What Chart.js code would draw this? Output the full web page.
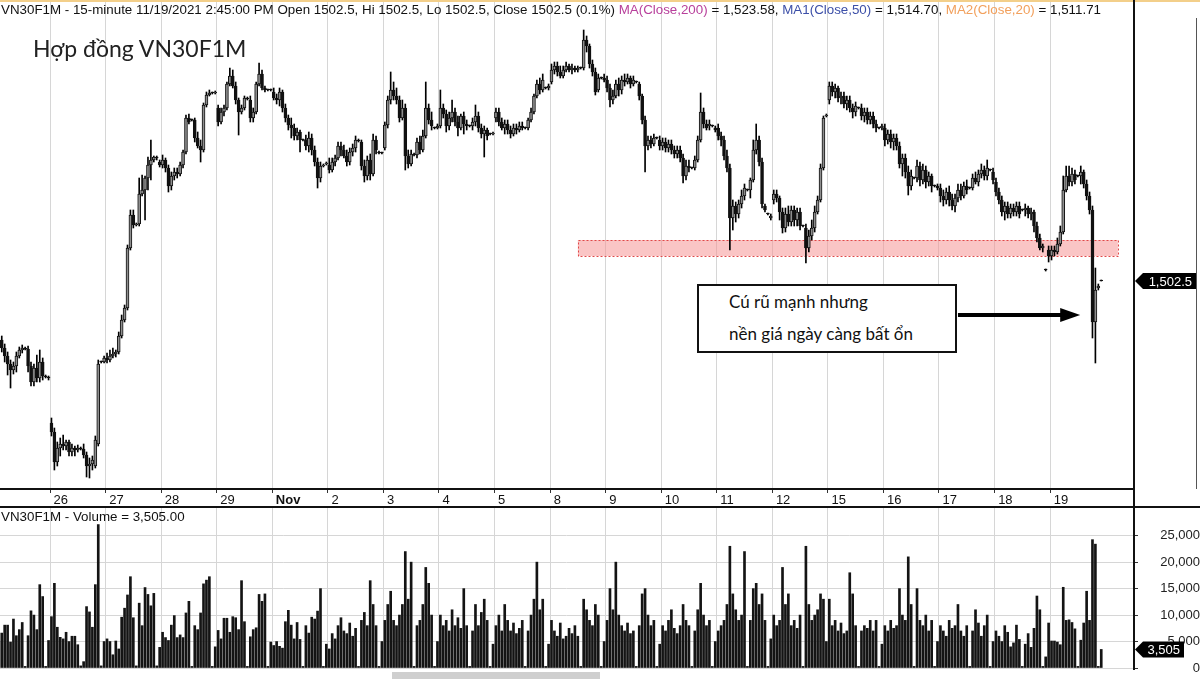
<!DOCTYPE html>
<html lang="vi">
<head>
<meta charset="utf-8">
<title>VN30F1M 15-minute</title>
<script src="https://cdn.jsdelivr.net/npm/chart.js@4.4.1/dist/chart.umd.min.js"></script>
<style>
  html, body { margin: 0; padding: 0; background: #fff; }
  #wrap { position: relative; width: 1200px; height: 679px; overflow: hidden; font-family: 'Liberation Sans', Arial, sans-serif; }
  canvas { position: absolute; left: 0; }
  #price { top: 0; }
  #volume { top: 507px; }
  .txt { position: absolute; white-space: nowrap; color: #111; font-size: 13.35px; line-height: 16px; }
  #hdr { left: 1px; top: 2px; }
  #vhdr { left: 1px; top: 509px; }
  #title { left: 33px; top: 34px; font-family: Lato, 'Open Sans', sans-serif; font-size: 23px; line-height: 28px; color: #222; }
  #note { left: 697px; top: 284px; width: 226px; height: 65px; padding-left: 30px; border: 2px solid #111; background: #fff;
          font-family: Lato, 'Open Sans', sans-serif; font-size: 17px; line-height: 32px; color: #111; }
  .ma0 { color: #b8409c; } .ma1 { color: #3c4fa8; } .ma2 { color: #f2a05c; }
  .rule { position: absolute; background: #111; }
  #topline { position: absolute; left: 0; top: 0; width: 1200px; height: 2px; background: #f3cf8a; }
  #thumb { position: absolute; left: 392px; top: 672px; width: 208px; height: 7px; background: #cfcfcf; }
</style>
</head>
<body>
<div id="wrap">
  <canvas id="price" width="1200" height="506"></canvas>
  <canvas id="volume" width="1200" height="172"></canvas>
  <div id="topline"></div>
  <div class="rule" style="left:0;top:506px;width:1200px;height:2px"></div>
  <div class="rule" style="left:1133px;top:0;width:2px;height:670px"></div>
  <div class="rule" style="left:1196px;top:18px;width:1px;height:471px;background:#555"></div>
  <div id="thumb"></div>
  <div id="hdr" class="txt">VN30F1M - 15-minute 11/19/2021 2:45:00 PM Open 1502.5, Hi 1502.5, Lo 1502.5, Close 1502.5 (0.1%) <span class="ma0">MA(Close,200)</span> = 1,523.58, <span class="ma1">MA1(Close,50)</span> = 1,514.70, <span class="ma2">MA2(Close,20)</span> = 1,511.71</div>
  <div id="vhdr" class="txt">VN30F1M - Volume = 3,505.00</div>
  <div id="title" class="txt">Hợp đồng VN30F1M</div>
  <div id="note" class="txt">Cú rũ mạnh nhưng<br>nền giá ngày càng bất ổn</div>
</div>
<script>
// 15-minute bars, 19 per session (Oct 25 .. Nov 19, last session has 18)
const dayLabels = ['26', '27', '28', '29', 'Nov', '2', '3', '4', '5', '8', '9', '10', '11', '12', '15', '16', '17', '18', '19'];
const barsPerDay = 19;

const opens = [
  1489.7, 1490.3, 1490.7, 1489.1, 1487.5, 1485.9, 1484.7, 1485.5, 1487.5, 1488.7, 1489.1, 1488.9, 1485.5, 1482.3, 1485.1, 1483.1, 1486.3, 1483.5, 1483.3,
  1474.1, 1472.3, 1466.3, 1469.1, 1469.9, 1469.5, 1470.3, 1468.3, 1469.1, 1468.7, 1469.1, 1468.9, 1467.7, 1465.5, 1465.9, 1465.5, 1469.9, 1486.3, 1486.3,
  1487.1, 1486.7, 1487.5, 1487.9, 1488.3, 1491.5, 1494.7, 1497.1, 1509.1, 1515.7, 1513.7, 1513.9, 1519.9, 1520.7, 1523.1, 1525.7, 1526.7, 1527.3, 1526.3,
  1525.7, 1526.7, 1525.1, 1521.5, 1523.5, 1524.3, 1523.9, 1525.7, 1528.3, 1535.1, 1534.7, 1534.7, 1531.1, 1529.5, 1528.7, 1537.7, 1539.7, 1540.1, 1540.1,
  1537.1, 1534.3, 1536.3, 1537.1, 1541.9, 1543.5, 1541.5, 1538.7, 1536.3, 1537.1, 1539.1, 1538.7, 1535.1, 1536.3, 1541.9, 1543.9, 1541.1, 1540.7, 1540.7,
  1540.3, 1539.1, 1538.7, 1540.3, 1537.1, 1535.1, 1533.7, 1533.1, 1531.5, 1532.3, 1530.7, 1530.7, 1529.5, 1531.1, 1528.7, 1526.3, 1523.1, 1525.5, 1525.9,
  1525.7, 1524.7, 1526.3, 1527.1, 1529.5, 1528.7, 1527.5, 1526.3, 1528.3, 1529.1, 1530.7, 1530.3, 1525.5, 1523.5, 1526.7, 1523.9, 1530.7, 1528.3, 1528.1,
  1529.1, 1533.7, 1538.7, 1540.7, 1539.5, 1538.7, 1535.1, 1537.1, 1527.5, 1525.9, 1527.9, 1527.7, 1530.3, 1528.7, 1531.5, 1537.1, 1534.7, 1533.1, 1533.1,
  1533.5, 1537.1, 1535.9, 1533.5, 1535.1, 1536.3, 1534.3, 1533.1, 1535.5, 1533.9, 1533.5, 1533.5, 1534.3, 1535.5, 1533.1, 1531.9, 1532.7, 1531.9, 1531.9,
  1535.1, 1536.3, 1534.3, 1533.1, 1533.9, 1532.7, 1531.9, 1533.1, 1532.7, 1533.5, 1533.1, 1533.1, 1534.7, 1536.3, 1539.5, 1541.9, 1540.7, 1541.1, 1541.1,
  1542.3, 1544.7, 1545.5, 1544.3, 1543.5, 1544.7, 1545.5, 1544.7, 1545.1, 1544.7, 1545.1, 1545.1, 1550.7, 1549.5, 1545.9, 1544.3, 1540.7, 1543.1, 1543.1,
  1542.7, 1541.1, 1538.7, 1539.5, 1541.9, 1540.7, 1542.7, 1542.3, 1543.1, 1541.9, 1542.3, 1541.9, 1539.5, 1534.7, 1529.5, 1530.7, 1529.9, 1531.1, 1530.7,
  1529.5, 1530.3, 1529.1, 1529.9, 1528.7, 1527.9, 1528.7, 1527.1, 1523.5, 1525.5, 1525.1, 1525.1, 1526.7, 1530.7, 1536.3, 1533.9, 1533.5, 1533.5, 1533.1,
  1533.1, 1531.5, 1530.7, 1527.5, 1525.1, 1515.1, 1517.5, 1515.9, 1517.9, 1519.5, 1520.7, 1520.7, 1522.7, 1528.7, 1530.7, 1526.3, 1517.5, 1515.9, 1515.1,
  1518.7, 1519.9, 1519.1, 1516.3, 1513.1, 1515.9, 1514.3, 1516.7, 1514.7, 1516.3, 1513.5, 1513.1, 1509.1, 1511.5, 1513.1, 1516.3, 1518.7, 1525.1, 1535.5,
  1538.7, 1541.5, 1540.3, 1541.1, 1539.1, 1539.5, 1537.9, 1538.7, 1537.1, 1536.3, 1537.1, 1537.1, 1535.5, 1536.3, 1534.7, 1535.5, 1533.9, 1533.1, 1533.1,
  1533.1, 1530.7, 1531.9, 1530.3, 1531.1, 1529.5, 1525.9, 1527.1, 1524.3, 1521.5, 1523.1, 1523.1, 1525.5, 1522.7, 1524.7, 1522.3, 1523.5, 1521.5, 1521.5,
  1521.1, 1519.5, 1518.7, 1520.3, 1518.7, 1517.5, 1519.1, 1520.7, 1519.5, 1521.5, 1521.1, 1521.1, 1523.1, 1522.3, 1523.9, 1524.7, 1523.5, 1524.7, 1524.3,
  1522.3, 1520.3, 1518.7, 1516.3, 1517.5, 1515.9, 1517.1, 1516.3, 1517.5, 1516.7, 1516.7, 1517.1, 1515.9, 1516.3, 1513.5, 1511.1, 1509.1, 1504.7, 1508.7,
  1507.5, 1508.7, 1508.3, 1509.9, 1512.3, 1520.7, 1523.5, 1522.3, 1523.9, 1523.5, 1523.5, 1524.3, 1521.9, 1519.5, 1516.7, 1494.3, 1501.1, 1502.5
];
const highs = [
  1491.1, 1491.1, 1491.5, 1489.9, 1488.3, 1486.7, 1486.3, 1488.3, 1489.3, 1489.7, 1489.3, 1489.5, 1486.3, 1485.9, 1487.7, 1488.7, 1487.1, 1483.7, 1483.5,
  1475.1, 1473.1, 1470.3, 1471.1, 1471.7, 1470.7, 1470.7, 1469.9, 1469.5, 1469.7, 1469.3, 1469.9, 1468.3, 1467.1, 1467.5, 1471.5, 1486.7, 1486.5, 1487.5,
  1488.1, 1488.7, 1489.1, 1488.7, 1492.3, 1495.7, 1497.7, 1509.7, 1516.7, 1516.7, 1514.1, 1523.1, 1523.7, 1523.5, 1527.3, 1530.7, 1527.5, 1527.5, 1526.7,
  1527.7, 1527.1, 1525.7, 1524.3, 1525.1, 1525.1, 1526.3, 1528.7, 1535.7, 1535.9, 1534.9, 1535.1, 1532.3, 1530.7, 1538.1, 1540.3, 1540.7, 1540.3, 1540.5,
  1537.7, 1537.1, 1537.7, 1542.3, 1545.1, 1544.7, 1542.3, 1539.1, 1537.7, 1539.5, 1539.3, 1539.5, 1537.1, 1542.3, 1546.1, 1544.7, 1541.5, 1540.9, 1540.9,
  1541.1, 1539.9, 1541.1, 1540.7, 1537.9, 1535.7, 1535.1, 1533.9, 1533.1, 1532.7, 1530.9, 1531.7, 1532.3, 1531.9, 1529.5, 1527.1, 1526.3, 1525.9, 1526.3,
  1527.1, 1527.1, 1527.7, 1530.3, 1530.3, 1529.7, 1528.7, 1529.1, 1529.9, 1531.5, 1530.9, 1530.7, 1526.7, 1527.5, 1527.9, 1531.9, 1531.5, 1528.5, 1528.3,
  1534.3, 1539.5, 1544.3, 1542.3, 1541.1, 1539.5, 1538.7, 1537.9, 1528.7, 1528.7, 1528.1, 1531.1, 1531.5, 1532.7, 1542.3, 1537.9, 1536.3, 1533.3, 1533.9,
  1540.7, 1537.9, 1536.7, 1536.3, 1538.7, 1537.1, 1535.5, 1535.9, 1536.3, 1534.7, 1533.7, 1535.1, 1537.7, 1536.3, 1533.9, 1533.5, 1533.1, 1532.1, 1532.3,
  1537.1, 1537.1, 1535.1, 1534.7, 1534.7, 1533.5, 1533.9, 1533.9, 1534.3, 1534.3, 1533.3, 1535.1, 1537.1, 1539.9, 1542.7, 1543.1, 1543.9, 1541.3, 1541.9,
  1545.9, 1546.3, 1546.3, 1545.5, 1545.5, 1546.3, 1545.9, 1545.9, 1545.5, 1545.5, 1545.3, 1552.7, 1551.5, 1549.9, 1546.7, 1545.1, 1543.9, 1543.3, 1543.9,
  1543.5, 1541.9, 1540.7, 1542.7, 1543.1, 1543.5, 1543.9, 1543.9, 1543.5, 1543.5, 1542.5, 1542.3, 1539.9, 1535.5, 1531.5, 1531.5, 1531.9, 1531.3, 1531.5,
  1531.1, 1531.1, 1530.7, 1530.7, 1529.5, 1529.5, 1529.5, 1527.9, 1526.7, 1526.7, 1525.3, 1527.5, 1531.5, 1540.1, 1537.1, 1534.7, 1534.7, 1533.7, 1533.5,
  1533.9, 1532.3, 1531.5, 1528.7, 1525.9, 1518.7, 1518.3, 1518.7, 1520.7, 1521.9, 1520.9, 1523.1, 1530.7, 1533.9, 1531.5, 1527.1, 1517.9, 1516.1, 1515.9,
  1520.7, 1520.7, 1519.5, 1517.1, 1517.1, 1517.5, 1517.5, 1517.5, 1517.1, 1517.1, 1513.7, 1513.9, 1512.7, 1514.7, 1517.5, 1519.5, 1525.9, 1535.5, 1535.9,
  1542.3, 1542.3, 1541.9, 1541.5, 1540.3, 1540.3, 1539.5, 1539.5, 1537.9, 1538.3, 1537.3, 1537.9, 1537.1, 1537.1, 1536.3, 1536.3, 1534.7, 1533.3, 1533.9,
  1533.9, 1532.7, 1532.7, 1531.9, 1531.9, 1530.3, 1527.9, 1527.9, 1525.5, 1524.7, 1523.3, 1526.7, 1526.3, 1525.9, 1525.5, 1524.3, 1523.9, 1521.7, 1521.9,
  1521.9, 1520.7, 1521.1, 1521.5, 1519.9, 1519.9, 1521.9, 1521.9, 1522.3, 1522.7, 1521.3, 1523.9, 1524.3, 1524.7, 1525.9, 1525.5, 1526.7, 1524.9, 1525.1,
  1523.1, 1521.1, 1519.5, 1518.3, 1518.3, 1517.9, 1517.9, 1518.3, 1518.3, 1516.9, 1517.9, 1517.5, 1517.1, 1516.7, 1514.3, 1511.9, 1509.9, 1504.9, 1509.5,
  1509.5, 1509.5, 1511.1, 1513.5, 1523.5, 1525.5, 1525.5, 1525.1, 1524.7, 1523.7, 1525.5, 1524.7, 1522.7, 1520.3, 1517.5, 1505.1, 1501.9, 1502.5
];
const lows = [
  1488.7, 1488.7, 1488.3, 1486.3, 1483.7, 1481.1, 1483.9, 1484.3, 1487.1, 1488.1, 1488.7, 1484.3, 1481.5, 1481.5, 1482.3, 1482.3, 1482.7, 1483.1, 1482.7,
  1471.5, 1464.7, 1465.5, 1467.5, 1468.7, 1468.7, 1467.5, 1467.5, 1467.5, 1468.3, 1468.7, 1467.1, 1463.3, 1463.1, 1464.7, 1465.1, 1469.5, 1486.1, 1486.1,
  1486.1, 1486.3, 1487.1, 1487.3, 1487.9, 1491.1, 1494.3, 1496.7, 1508.7, 1513.1, 1513.5, 1513.5, 1519.5, 1514.7, 1520.7, 1522.7, 1526.3, 1526.7, 1525.3,
  1525.1, 1524.3, 1520.3, 1520.7, 1522.7, 1523.1, 1523.5, 1525.1, 1527.9, 1533.9, 1534.5, 1530.3, 1529.1, 1526.3, 1528.3, 1537.3, 1539.5, 1539.9, 1539.9,
  1533.5, 1533.9, 1535.5, 1536.7, 1541.5, 1541.1, 1537.9, 1531.7, 1535.9, 1536.7, 1538.7, 1534.3, 1534.3, 1535.9, 1541.5, 1540.7, 1540.3, 1540.5, 1540.5,
  1538.7, 1537.9, 1537.5, 1536.3, 1534.3, 1532.7, 1531.1, 1530.7, 1530.7, 1528.3, 1530.5, 1528.7, 1528.3, 1527.7, 1525.5, 1521.1, 1522.3, 1525.3, 1525.7,
  1524.1, 1524.3, 1525.5, 1526.7, 1527.5, 1527.1, 1525.5, 1525.7, 1527.5, 1528.3, 1530.3, 1524.7, 1522.3, 1522.7, 1522.7, 1523.5, 1527.9, 1527.9, 1527.9,
  1528.7, 1533.1, 1537.9, 1538.7, 1537.9, 1534.3, 1534.7, 1524.7, 1525.1, 1525.5, 1527.5, 1527.1, 1527.9, 1528.3, 1531.1, 1533.9, 1532.7, 1532.9, 1532.9,
  1533.1, 1535.1, 1532.3, 1532.7, 1534.3, 1533.5, 1531.5, 1532.7, 1531.9, 1532.7, 1533.3, 1532.7, 1533.5, 1532.3, 1531.1, 1527.3, 1530.7, 1531.7, 1531.7,
  1534.3, 1533.5, 1532.7, 1531.9, 1531.9, 1531.1, 1531.5, 1531.9, 1532.3, 1532.7, 1532.9, 1532.7, 1534.3, 1535.9, 1539.1, 1539.9, 1540.3, 1540.9, 1540.7,
  1541.9, 1543.9, 1543.5, 1543.1, 1543.1, 1544.3, 1544.3, 1543.9, 1544.3, 1544.3, 1544.9, 1544.7, 1548.3, 1545.1, 1543.5, 1539.7, 1540.3, 1542.9, 1542.3,
  1540.3, 1537.3, 1537.9, 1539.1, 1539.5, 1539.9, 1541.5, 1541.9, 1541.1, 1541.5, 1542.1, 1538.7, 1533.9, 1524.3, 1528.7, 1529.1, 1529.5, 1530.9, 1528.7,
  1528.7, 1528.3, 1528.3, 1527.9, 1527.1, 1527.1, 1526.3, 1522.1, 1522.7, 1524.3, 1524.9, 1524.7, 1526.3, 1530.3, 1533.1, 1532.7, 1532.7, 1533.3, 1532.3,
  1530.7, 1529.5, 1526.7, 1524.3, 1508.7, 1512.7, 1514.3, 1515.1, 1517.1, 1518.7, 1520.5, 1519.1, 1522.3, 1527.9, 1525.5, 1517.1, 1516.3, 1515.7, 1514.7,
  1517.9, 1518.3, 1514.7, 1512.1, 1512.3, 1513.5, 1513.5, 1513.5, 1513.5, 1512.7, 1513.3, 1506.1, 1508.3, 1510.7, 1512.3, 1515.9, 1518.3, 1524.7, 1535.3,
  1537.9, 1539.5, 1539.1, 1538.3, 1537.9, 1537.1, 1536.7, 1536.3, 1535.1, 1535.5, 1536.9, 1534.7, 1534.3, 1533.9, 1533.9, 1533.1, 1532.3, 1532.9, 1532.7,
  1529.5, 1529.9, 1529.1, 1528.7, 1528.7, 1525.1, 1523.5, 1523.1, 1519.7, 1520.7, 1522.9, 1522.3, 1521.5, 1521.9, 1521.1, 1521.5, 1520.3, 1521.3, 1520.7,
  1518.3, 1517.5, 1517.9, 1517.5, 1516.7, 1516.3, 1518.3, 1518.7, 1519.1, 1519.9, 1520.9, 1520.7, 1521.9, 1521.5, 1523.1, 1522.7, 1522.7, 1524.5, 1521.9,
  1519.5, 1517.9, 1515.5, 1514.7, 1515.1, 1515.1, 1515.5, 1515.5, 1515.1, 1516.5, 1515.5, 1515.1, 1514.7, 1512.3, 1510.3, 1508.7, 1508.3, 1504.5, 1506.3,
  1506.7, 1507.5, 1507.9, 1509.5, 1511.9, 1520.3, 1521.5, 1521.5, 1521.9, 1523.3, 1521.9, 1521.1, 1518.7, 1515.9, 1491.1, 1486.1, 1500.7, 1502.5
];
const closes = [
  1490.3, 1489.7, 1489.1, 1487.5, 1485.9, 1484.7, 1485.5, 1487.5, 1488.7, 1489.1, 1488.9, 1485.5, 1482.3, 1485.1, 1483.1, 1486.3, 1483.5, 1483.3, 1483.1,
  1472.3, 1466.3, 1469.1, 1469.9, 1469.5, 1470.3, 1468.3, 1469.1, 1468.7, 1469.1, 1468.9, 1467.7, 1465.5, 1465.9, 1466.7, 1470.7, 1485.9, 1486.3, 1487.1,
  1486.7, 1487.5, 1487.9, 1488.3, 1491.5, 1494.7, 1497.1, 1509.1, 1515.7, 1513.7, 1513.9, 1519.9, 1520.7, 1523.1, 1525.7, 1526.7, 1527.3, 1527.1, 1525.7,
  1526.7, 1525.1, 1521.5, 1523.5, 1524.3, 1523.9, 1525.7, 1528.3, 1535.1, 1534.3, 1534.7, 1531.1, 1529.5, 1528.7, 1537.7, 1539.7, 1540.1, 1540.1, 1540.3,
  1534.3, 1536.3, 1537.1, 1541.9, 1543.5, 1541.5, 1538.7, 1536.3, 1537.1, 1539.1, 1538.9, 1535.1, 1536.3, 1541.9, 1543.9, 1541.1, 1540.7, 1540.7, 1540.7,
  1539.1, 1538.7, 1540.3, 1537.1, 1535.1, 1533.7, 1533.1, 1531.5, 1532.3, 1530.7, 1530.7, 1529.5, 1531.1, 1528.7, 1526.3, 1523.1, 1525.5, 1525.7, 1526.1,
  1524.7, 1526.3, 1527.1, 1529.5, 1528.7, 1527.5, 1526.3, 1528.3, 1529.1, 1530.7, 1530.5, 1525.5, 1523.5, 1526.7, 1523.9, 1530.7, 1528.7, 1528.1, 1528.1,
  1533.7, 1538.7, 1540.7, 1539.5, 1538.7, 1535.1, 1537.1, 1527.5, 1525.9, 1527.9, 1527.7, 1530.3, 1528.7, 1531.5, 1537.1, 1534.7, 1533.5, 1533.1, 1533.5,
  1537.1, 1535.9, 1533.5, 1535.1, 1536.3, 1534.3, 1533.1, 1535.5, 1533.9, 1533.5, 1533.5, 1534.3, 1535.5, 1533.1, 1531.9, 1532.7, 1531.5, 1531.9, 1532.1,
  1536.3, 1534.3, 1533.1, 1533.9, 1532.7, 1531.9, 1533.1, 1532.7, 1533.5, 1533.1, 1533.1, 1534.7, 1536.3, 1539.5, 1541.9, 1540.7, 1542.7, 1541.1, 1541.5,
  1544.7, 1545.5, 1544.3, 1543.5, 1544.7, 1545.5, 1544.7, 1545.1, 1544.7, 1545.1, 1545.1, 1550.7, 1549.5, 1545.9, 1544.3, 1540.3, 1543.1, 1543.1, 1542.7,
  1541.1, 1538.7, 1539.5, 1541.9, 1540.7, 1542.7, 1542.3, 1543.1, 1541.9, 1542.7, 1542.3, 1539.5, 1534.7, 1529.5, 1530.7, 1529.9, 1531.1, 1531.1, 1529.5,
  1530.3, 1529.1, 1529.9, 1528.7, 1527.9, 1528.7, 1527.1, 1523.5, 1525.5, 1525.1, 1525.1, 1526.7, 1530.7, 1536.3, 1533.9, 1533.1, 1533.9, 1533.5, 1532.7,
  1531.5, 1530.7, 1527.5, 1525.1, 1515.1, 1517.5, 1515.9, 1517.9, 1519.5, 1521.1, 1520.7, 1522.7, 1528.7, 1530.7, 1526.3, 1517.9, 1516.7, 1515.9, 1515.5,
  1519.9, 1519.1, 1516.3, 1513.1, 1515.9, 1514.3, 1516.7, 1514.7, 1516.3, 1513.5, 1513.5, 1509.1, 1511.5, 1513.1, 1516.3, 1518.7, 1525.1, 1535.1, 1535.7,
  1541.5, 1540.3, 1541.1, 1539.1, 1539.5, 1537.9, 1538.7, 1537.1, 1536.3, 1537.5, 1537.1, 1535.5, 1536.3, 1534.7, 1535.5, 1533.9, 1533.1, 1533.1, 1533.5,
  1530.7, 1531.9, 1530.3, 1531.1, 1529.5, 1525.9, 1527.1, 1524.3, 1521.5, 1523.5, 1523.1, 1525.5, 1522.7, 1524.7, 1522.3, 1523.5, 1521.5, 1521.5, 1521.1,
  1519.5, 1518.7, 1520.3, 1518.7, 1517.5, 1519.1, 1520.7, 1519.5, 1521.5, 1520.7, 1521.1, 1523.1, 1522.3, 1523.9, 1524.7, 1523.5, 1525.1, 1524.7, 1522.7,
  1520.3, 1518.7, 1516.3, 1517.5, 1515.9, 1517.1, 1516.3, 1517.5, 1515.9, 1516.7, 1517.1, 1515.9, 1516.3, 1513.5, 1511.1, 1509.1, 1509.5, 1504.7, 1507.5,
  1508.7, 1508.3, 1509.9, 1512.3, 1520.7, 1523.5, 1522.3, 1523.9, 1522.7, 1523.5, 1524.3, 1521.9, 1519.5, 1516.7, 1494.3, 1500.7, 1501.5, 1502.5
];
const volumes = [
  5000, 5000, 6600, 8100, 8100, 4900, 9250, 6100, 7250, 8600, 300, 6100, 10800, 10000, 7250, 15750, 13500, 300, 5200,
  9700, 16000, 7700, 5800, 5500, 6750, 5000, 6000, 6000, 4400, 400, 1200, 11600, 10600, 7700, 15750, 27100, 400, 5000,
  5500, 5000, 2500, 5100, 3600, 9600, 11300, 13800, 17250, 9500, 400, 12250, 8000, 15200, 13900, 11750, 14100, 400, 3900,
  6750, 5750, 5200, 8100, 9900, 5750, 6250, 5750, 10400, 12600, 300, 8000, 7250, 10400, 15900, 16600, 17250, 300, 4000,
  7100, 5500, 9400, 9400, 6750, 9700, 9500, 7250, 16500, 8750, 300, 5900, 7250, 7600, 13900, 12600, 14000, 300, 4900,
  4250, 5000, 4100, 3750, 8750, 10900, 8100, 5500, 8600, 5400, 300, 8000, 6600, 9600, 9250, 10750, 15000, 300, 4500,
  3600, 6500, 5500, 8000, 9500, 7000, 6500, 8500, 6000, 7500, 300, 9000, 10500, 8000, 16500, 12000, 8000, 300, 5000,
  9000, 12000, 14500, 9000, 8000, 10000, 12000, 22000, 13000, 20000, 300, 8000, 9000, 12000, 19000, 16000, 10000, 300, 5000,
  10000, 8000, 9000, 7000, 11000, 8000, 9500, 7500, 15000, 8000, 300, 7000, 12000, 8000, 10500, 13000, 9000, 300, 4500,
  8000, 10000, 7000, 12000, 9000, 7000, 8500, 6500, 7500, 9000, 300, 7000, 10000, 13000, 20000, 11000, 13000, 300, 4500,
  9000, 7000, 6000, 8500, 5500, 6000, 7500, 6500, 8000, 6000, 300, 13000, 11000, 9000, 8000, 12000, 10000, 300, 5000,
  9000, 15000, 11000, 20000, 10000, 8000, 7000, 8500, 6500, 7000, 300, 8000, 14000, 15000, 10000, 8000, 9000, 300, 4500,
  8000, 7000, 9000, 11000, 7500, 6500, 8000, 12000, 9000, 8000, 300, 7000, 11000, 16000, 10000, 8000, 9000, 300, 5000,
  7000, 8000, 9000, 12000, 23000, 14000, 11000, 9000, 10000, 22000, 300, 9000, 15000, 16000, 12000, 14000, 9000, 300, 5500,
  10000, 8000, 9000, 19000, 12000, 14000, 8000, 9000, 7500, 10000, 300, 23000, 12000, 9000, 10000, 11000, 14000, 13000, 5000,
  13000, 8000, 9000, 7000, 8500, 6500, 7000, 18000, 14000, 8000, 300, 7000, 8000, 7500, 9000, 7000, 9000, 300, 4500,
  8000, 7000, 9000, 7500, 8000, 15000, 10000, 9000, 21000, 12000, 300, 15000, 9000, 8000, 10000, 7000, 9000, 300, 5000,
  8000, 7000, 6000, 9000, 7500, 8000, 12000, 7000, 6000, 8000, 300, 7000, 11000, 8500, 6000, 8000, 10000, 300, 5000,
  7000, 6000, 5000, 8000, 6750, 4000, 4750, 8100, 5400, 300, 4500, 6500, 3900, 7500, 13600, 11000, 300, 2100, 8500,
  5100, 5100, 4900, 4400, 15250, 9000, 9100, 8600, 7400, 300, 5250, 8500, 14500, 9000, 24250, 23400, 300, 3505
];
const volumeTicks = [0, 5000, 10000, 15000, 20000, 25000];

// support zone and the call-out (in bar index / price units)
const zone = { from: 199, to: 383.7, low: 1507.5, high: 1510.7 };
const arrow = { from: 329.0, to: 370.8, price: 1495.7 };

const FONT = "'Liberation Sans', Arial, sans-serif";
const GRID = '#d6d6d6';
const X_MIN = 1.4, X_MAX = 389.2;
const dayBreaks = dayLabels.map((_, i) => (i + 1) * barsPerDay - 0.5);
const idx = opens.map((_, i) => i);
const last = closes.length - 1;
const fmt = (v, d) => v.toLocaleString('en-US', { minimumFractionDigits: d, maximumFractionDigits: d });

Chart.defaults.font.family = FONT;
Chart.defaults.animation = false;
Chart.defaults.events = [];
Chart.defaults.plugins.legend.display = false;
Chart.defaults.plugins.tooltip.enabled = false;

function drawTag(ctx, left, width, yy, text) {
    ctx.save();
    ctx.fillStyle = '#000';
    ctx.beginPath();
    ctx.moveTo(left, yy);
    ctx.lineTo(left + 8, yy - 8);
    ctx.lineTo(left + width, yy - 8);
    ctx.lineTo(left + width, yy + 8);
    ctx.lineTo(left + 8, yy + 8);
    ctx.closePath();
    ctx.fill();
    ctx.fillStyle = '#fff';
    ctx.font = '13px ' + FONT;
    ctx.textAlign = 'right';
    ctx.textBaseline = 'middle';
    ctx.fillText(text, left + width - 4, yy + 1);
    ctx.restore();
}

const pricePlugin = {
    id: 'priceExtras',
    beforeDatasetsDraw(chart) {
        const { ctx, scales: { x, y } } = chart;
        const x0 = x.getPixelForValue(zone.from), x1 = x.getPixelForValue(zone.to);
        const y0 = y.getPixelForValue(zone.high), y1 = y.getPixelForValue(zone.low);
        ctx.save();
        ctx.fillStyle = 'rgba(246, 150, 150, 0.55)';
        ctx.fillRect(x0, y0, x1 - x0, y1 - y0);
        ctx.setLineDash([2, 2]);
        ctx.strokeStyle = '#e04848';
        ctx.lineWidth = 1;
        ctx.strokeRect(Math.round(x0) + 0.5, Math.round(y0) + 0.5, Math.round(x1 - x0), Math.round(y1 - y0));
        ctx.restore();
    },
    afterDraw(chart) {
        const { ctx, chartArea, scales: { x, y } } = chart;
        // arrow to the shakeout bar
        const ax0 = x.getPixelForValue(arrow.from), ax1 = x.getPixelForValue(arrow.to);
        const ay = y.getPixelForValue(arrow.price);
        ctx.save();
        ctx.strokeStyle = '#000';
        ctx.fillStyle = '#000';
        ctx.lineWidth = 4;
        ctx.beginPath();
        ctx.moveTo(ax0, ay);
        ctx.lineTo(ax1 - 16, ay);
        ctx.stroke();
        ctx.beginPath();
        ctx.moveTo(ax1, ay);
        ctx.lineTo(ax1 - 20, ay - 7);
        ctx.lineTo(ax1 - 20, ay + 7);
        ctx.closePath();
        ctx.fill();
        ctx.restore();
        drawTag(ctx, chartArea.right + 1, 61, y.getPixelForValue(closes[last]), fmt(closes[last], 1));
    }
};

new Chart(document.getElementById('price'), {
    type: 'bar',
    data: {
        datasets: [
            {
                label: 'wick',
                data: idx.map(i => ({ x: i, y: [lows[i], highs[i]] })),
                backgroundColor: '#000',
                barThickness: 1,
                minBarLength: 1,
                grouped: false,
                order: 2,
            },
            {
                label: 'body',
                data: idx.map(i => ({ x: i, y: [opens[i], closes[i]] })),
                backgroundColor: c => closes[c.dataIndex] > opens[c.dataIndex] ? '#8e8e8e' : '#111',
                borderColor: '#111',
                borderWidth: 1,
                borderSkipped: false,
                barThickness: 3,
                minBarLength: 1,
                grouped: false,
                order: 1,
            },
        ]
    },
    options: {
        responsive: false,
        layout: { padding: 0 },
        scales: {
            x: {
                type: 'linear',
                min: X_MIN,
                max: X_MAX,
                offset: false,
                grid: { color: GRID, tickColor: '#333', tickLength: 4, offset: false },
                border: { color: '#111', width: 2 },
                afterBuildTicks: a => { a.ticks = dayBreaks.map(v => ({ value: v })); },
                afterFit: a => { a.height = 17; },
                ticks: {
                    autoSkip: false,
                    maxRotation: 0,
                    align: 'start',
                    padding: 0,
                    color: '#111',
                    font: c => ({ family: FONT, size: 13, weight: dayLabels[c.index] === 'Nov' ? 'bold' : 'normal' }),
                    callback: (v, i) => ' ' + dayLabels[i],
                },
            },
            y: {
                position: 'right',
                min: 1460.9,
                max: 1558.7,
                grid: { display: false },
                ticks: { display: false },
                border: { color: '#111', width: 2 },
                afterFit: a => { a.width = 66; },
            }
        }
    },
    plugins: [pricePlugin],
});

const volumePlugin = {
    id: 'volumeExtras',
    afterDraw(chart) {
        const { ctx, chartArea, scales: { y } } = chart;
        drawTag(ctx, chartArea.right + 1, 49, y.getPixelForValue(volumes[last]), fmt(volumes[last], 0));
    }
};

new Chart(document.getElementById('volume'), {
    type: 'bar',
    data: {
        datasets: [{
            label: 'Volume',
            data: idx.map(i => ({ x: i, y: volumes[i] })),
            backgroundColor: '#141414',
            barThickness: 2,
            grouped: false,
        }]
    },
    options: {
        responsive: false,
        layout: { padding: { top: 1 } },
        scales: {
            x: {
                type: 'linear',
                min: X_MIN,
                max: X_MAX,
                offset: false,
                grid: { color: GRID, drawTicks: false, offset: false },
                border: { display: false },
                afterBuildTicks: a => { a.ticks = dayBreaks.map(v => ({ value: v })); },
                afterFit: a => { a.height = 11; },
                ticks: { display: false },
            },
            y: {
                position: 'right',
                min: 0,
                max: 30230,
                grid: { color: GRID, tickColor: '#333', tickLength: 4 },
                border: { color: '#111', width: 2 },
                afterBuildTicks: a => { a.ticks = volumeTicks.map(v => ({ value: v })); },
                // labels sit far right; keep the plot full height
                afterFit: a => { a.width = 66; a.paddingTop = 0; a.paddingBottom = 0; },
                ticks: {
                    color: '#222',
                    crossAlign: 'far',
                    padding: 16,
                    font: { family: FONT, size: 13 },
                    callback: v => fmt(v, 0),
                },
            }
        }
    },
    plugins: [volumePlugin],
});
</script>
</body>
</html>
